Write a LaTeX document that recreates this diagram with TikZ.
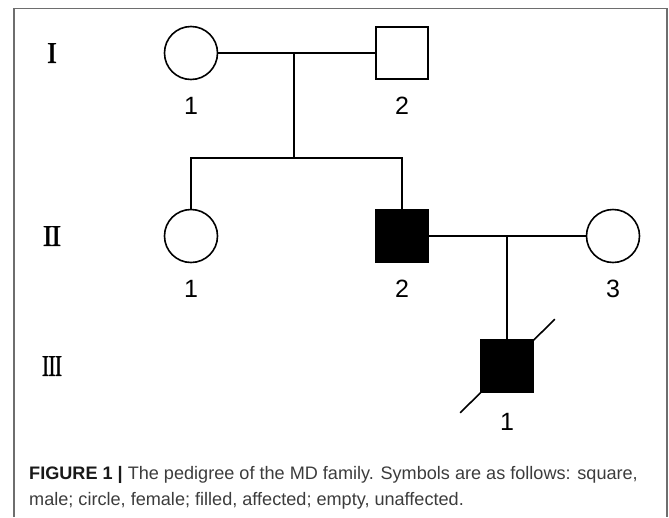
\documentclass[tikz,border=0pt]{standalone}
\usepackage{fontspec}
\usepackage{graphicx}
\setmainfont{Liberation Sans}
\newfontfamily\genfont[FakeBold=1.2]{Liberation Serif}
\newfontfamily\capfont{Liberation Sans}
\usetikzlibrary{calc,positioning}

\definecolor{framegray}{HTML}{6E6E6E}
\definecolor{captext}{HTML}{3C3C3C}

\tikzset{
  line/.style={line width=1.6pt},
  female/.style={circle, draw, line width=1.6pt, minimum size=53pt, inner sep=0pt},
  male/.style={rectangle, draw, line width=1.6pt, minimum size=52pt, inner sep=0pt},
  affected/.style={fill=black},
  gen/.style={font=\genfont\fontsize{30}{30}\selectfont, inner sep=0pt},
  num/.style={font=\fontsize{25}{25}\selectfont, inner sep=0pt},
  captionline/.style={font=\capfont\fontsize{18.1}{18.1}\selectfont, text=captext, inner sep=0pt, anchor=base west}
}

\begin{document}
\begin{tikzpicture}[x=1pt, y=-1pt]
\useasboundingbox (0,0) rectangle (669,517);
% frame
\draw[framegray, line width=1.6pt] (14,517) -- (14,8.5) -- (667,8.5) -- (667,517);

% generations
\node[gen] (gI) at (52,53) {I};
\node[gen] (gII) at (52,236) {I\kern-1.5ptI};
\node[gen] (gIII) at (52,366) {\scalebox{0.72}[1]{I\kern-1ptI\kern-1ptI}};

% individuals
\node[female] (I1) at (191,53) {};
\node[male] (I2) at (402,53) {};
\node[female] (II1) at (191,236) {};
\node[male, affected] (II2) at (402,236) {};
\node[female] (II3) at (613,236) {};
\node[male, affected] (III1) at (507,366) {};

\node[num, below=17pt of I1] (nI1) {1};
\node[num, below=17pt of I2] (nI2) {2};
\node[num, below=17pt of II1] (nII1) {1};
\node[num, below=17pt of II2] (nII2) {2};
\node[num, below=17pt of II3] (nII3) {3};
\node[num, below=20.5pt of III1] (nIII1) {1};

% mating and sibship lines
\coordinate (m1) at (294,53);
\coordinate (s1) at (294,158);
\draw[line] (I1) -- (I2);
\draw[line] (m1) -- (s1);
\draw[line] (II1.north) |- (s1) -| (II2.north);

\coordinate (m2) at (507,237);
\draw[line] (II2) -- (II3);
\draw[line] (m2) -- (III1);

% deceased
\draw[line] ($(III1.south west)+(-20,20)$) -- ($(III1.north east)+(21,-20)$);

% caption
\node[captionline] (cap1) at (29,479) {{\bfseries\color{black!90}FIGURE 1 |} The pedigree of the MD family. Symbols are as follows: square,};
\node[captionline] (cap2) at (29,505) {male; circle, female; filled, affected; empty, unaffected.};
\end{tikzpicture}
\end{document}
